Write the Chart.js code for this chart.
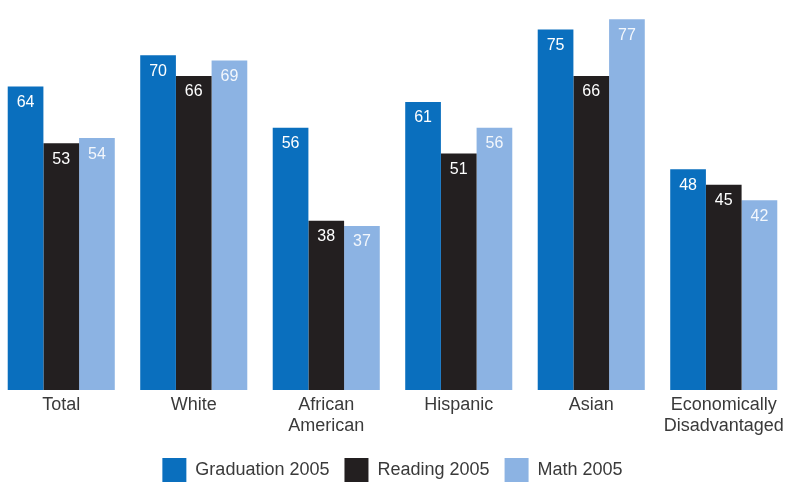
<!DOCTYPE html>
<html>
<head>
<meta charset="utf-8">
<script src="https://cdn.jsdelivr.net/npm/chart.js@4"></script>
<style>
    html, body { margin: 0; padding: 0; background: #fff; overflow: hidden; }
    body { width: 785px; height: 482px; position: relative; }
    #wrap { position: absolute; left: -5px; top: 0; width: 795px; height: 492px; }
</style>
</head>
<body>
<div id="wrap"><canvas id="scores"></canvas></div>
<script>
// Groups and scores (percent)
const categories = ['Total', 'White', ['African', 'American'], 'Hispanic', 'Asian', ['Economically', 'Disadvantaged']];
const graduation2005 = [64, 70, 56, 61, 75, 48];
const reading2005 = [53, 66, 38, 51, 66, 45];
const math2005 = [54, 69, 37, 56, 77, 42];

const FONT = '"Liberation Sans", Arial, sans-serif';

// value printed inside the top of each bar
const barLabels = {
    id: 'barLabels',
    afterDatasetsDraw(chart) {
        const ctx = chart.ctx;
        ctx.save();
        ctx.font = '16px ' + FONT;
        ctx.textAlign = 'center';
        ctx.textBaseline = 'middle';
        chart.data.datasets.forEach((ds, i) => {
            chart.getDatasetMeta(i).data.forEach((bar, j) => {
                ctx.fillStyle = i === 2 ? '#f3f7fc' : '#ffffff';
                ctx.fillText(ds.data[j], bar.x, bar.y + 16);
            });
        });
        ctx.restore();
    }
};

new Chart(document.getElementById('scores'), {
    type: 'bar',
    data: {
        labels: categories,
        datasets: [
            { label: 'Graduation 2005', data: graduation2005, backgroundColor: '#0a6fbe' },
            { label: 'Reading 2005', data: reading2005, backgroundColor: '#231f20' },
            { label: 'Math 2005', data: math2005, backgroundColor: '#8cb3e3' }
        ]
    },
    options: {
        responsive: true,
        maintainAspectRatio: false,
        animation: false,
        layout: { padding: 0 },
        datasets: {
            bar: { barPercentage: 1, categoryPercentage: 0.808, borderWidth: 0 }
        },
        plugins: {
            legend: {
                position: 'bottom',
                labels: {
                    boxWidth: 24,
                    boxHeight: 24,
                    padding: 15,
                    color: '#3a3a3a',
                    font: { family: FONT, size: 18 }
                }
            },
            tooltip: { enabled: false }
        },
        scales: {
            x: {
                grid: { display: false, drawTicks: false },
                border: { display: false },
                ticks: {
                    color: '#3a3a3a',
                    padding: 5,
                    maxRotation: 0,
                    autoSkip: false,
                    font: { family: FONT, size: 18, lineHeight: 1.15 }
                },
                afterFit(scale) { scale.height = 53; }
            },
            y: {
                display: false,
                min: 5.3,
                max: 80.7
            }
        }
    },
    plugins: [barLabels]
});
</script>
</body>
</html>
